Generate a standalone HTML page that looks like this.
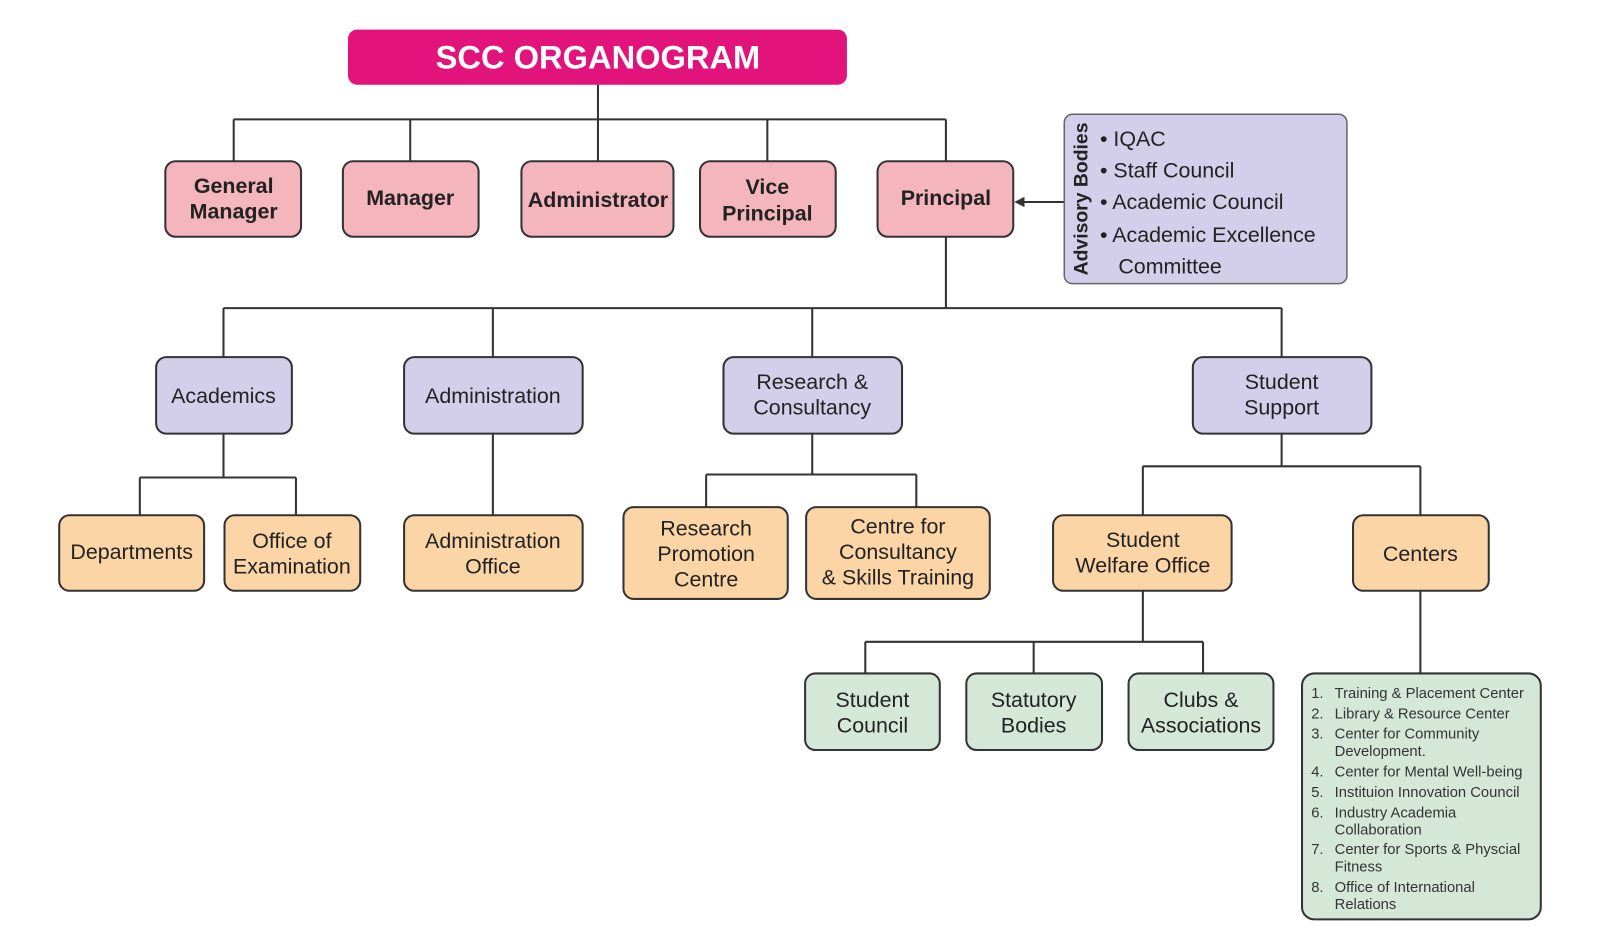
<!DOCTYPE html>
<html><head><meta charset="utf-8"><style>
html,body{margin:0;padding:0;background:#fff;}
svg{display:block;font-family:"Liberation Sans",Arial,sans-serif;}
</style></head><body>
<svg width="1600" height="952" viewBox="0 0 1568 933" xmlns="http://www.w3.org/2000/svg">
<g stroke="#333" stroke-width="2" fill="none">
<path d="M586 83V117M229 117H927M229 117V158M402 117V158M586 117V158M752 117V158M927 117V158"/>
<path d="M927 232V302M219 302H1256M219 302V350M483 302V350M796 302V350M1256 302V350"/>
<path d="M219 425V468M137 468H290M137 468V505M290 468V505M483 425V505"/>
<path d="M796 425V465M692 465H898M692 465V497M898 465V497"/>
<path d="M1256 425V457M1120 457H1392M1120 457V505M1392 457V505"/>
<path d="M1120 579V629M848 629H1179M848 629V660M1013 629V660M1179 629V660M1392 579V660"/>
<path d="M1043 198H1002"/>
</g>
<polygon points="994,198 1004,193 1004,203" fill="#333"/>
<rect x="341" y="29" width="489" height="54" rx="9" fill="#e2137b"/>
<text x="586" y="67" font-size="32" font-weight="bold" fill="#fff" text-anchor="middle">SCC ORGANOGRAM</text>
<g stroke="#333" stroke-width="2">
<g fill="#f4b5bc">
<rect x="162" y="158" width="133" height="74" rx="10"/>
<rect x="336" y="158" width="133" height="74" rx="10"/>
<rect x="511" y="158" width="149" height="74" rx="10"/>
<rect x="686" y="158" width="133" height="74" rx="10"/>
<rect x="860" y="158" width="133" height="74" rx="10"/>
</g>
<rect x="1043" y="112" width="277" height="166" rx="8" fill="#d3cfea" stroke="#666" stroke-width="1.5"/>
<g fill="#d3cfea">
<rect x="153" y="350" width="133" height="75" rx="10"/>
<rect x="396" y="350" width="175" height="75" rx="10"/>
<rect x="709" y="350" width="175" height="75" rx="10"/>
<rect x="1169" y="350" width="175" height="75" rx="10"/>
</g>
<g fill="#fbd5a5">
<rect x="58" y="505" width="142" height="74" rx="10"/>
<rect x="220" y="505" width="133" height="74" rx="10"/>
<rect x="396" y="505" width="175" height="74" rx="10"/>
<rect x="611" y="497" width="161" height="90" rx="10"/>
<rect x="790" y="497" width="180" height="90" rx="10"/>
<rect x="1032" y="505" width="175" height="74" rx="10"/>
<rect x="1326" y="505" width="133" height="74" rx="10"/>
</g>
<g fill="#d5e8d8">
<rect x="789" y="660" width="132" height="75" rx="10"/>
<rect x="947" y="660" width="133" height="75" rx="10"/>
<rect x="1106" y="660" width="142" height="75" rx="10"/>
<rect x="1276" y="660" width="234" height="241" rx="12"/>
</g>
</g>
<g font-size="21" font-weight="bold" fill="#222" text-anchor="middle">
<text x="229" y="189">General</text><text x="229" y="214">Manager</text>
<text x="402" y="201">Manager</text>
<text x="586" y="203">Administrator</text>
<text x="752" y="190">Vice</text><text x="752" y="216">Principal</text>
<text x="927" y="201">Principal</text>
</g>
<text transform="translate(1066,195) rotate(-90)" font-size="19" font-weight="bold" fill="#222" text-anchor="middle">Advisory Bodies</text>
<g font-size="21" fill="#222">
<text x="1078" y="143">• IQAC</text>
<text x="1078" y="174">• Staff Council</text>
<text x="1078" y="205">• Academic Council</text>
<text x="1078" y="237">• Academic Excellence</text>
<text x="1096" y="268">Committee</text>
</g>
<g font-size="21" fill="#222" text-anchor="middle">
<text x="219" y="395">Academics</text>
<text x="483" y="395">Administration</text>
<text x="796" y="381">Research &amp;</text><text x="796" y="406">Consultancy</text>
<text x="1256" y="381">Student</text><text x="1256" y="406">Support</text>
<text x="129" y="548">Departments</text>
<text x="286" y="537">Office of</text><text x="286" y="562">Examination</text>
<text x="483" y="537">Administration</text><text x="483" y="562">Office</text>
<text x="692" y="525">Research</text><text x="692" y="550">Promotion</text><text x="692" y="575">Centre</text>
<text x="880" y="523">Centre for</text><text x="880" y="548">Consultancy</text><text x="880" y="573">&amp; Skills Training</text>
<text x="1120" y="536">Student</text><text x="1120" y="561">Welfare Office</text>
<text x="1392" y="550">Centers</text>
<text x="855" y="693">Student</text><text x="855" y="718">Council</text>
<text x="1013" y="693">Statutory</text><text x="1013" y="718">Bodies</text>
<text x="1177" y="693">Clubs &amp;</text><text x="1177" y="718">Associations</text>
</g>
<g font-size="14.5" fill="#333">
<text x="1285" y="684">1.</text><text x="1308" y="684">Training &amp; Placement Center</text>
<text x="1285" y="704">2.</text><text x="1308" y="704">Library &amp; Resource Center</text>
<text x="1285" y="724">3.</text><text x="1308" y="724">Center for Community</text>
<text x="1308" y="741">Development.</text>
<text x="1285" y="761">4.</text><text x="1308" y="761">Center for Mental Well-being</text>
<text x="1285" y="781">5.</text><text x="1308" y="781">Instituion Innovation Council</text>
<text x="1285" y="801">6.</text><text x="1308" y="801">Industry Academia</text>
<text x="1308" y="818">Collaboration</text>
<text x="1285" y="837">7.</text><text x="1308" y="837">Center for Sports &amp; Physcial</text>
<text x="1308" y="854">Fitness</text>
<text x="1285" y="874">8.</text><text x="1308" y="874">Office of International</text>
<text x="1308" y="891">Relations</text>
</g>
</svg>
</body></html>
